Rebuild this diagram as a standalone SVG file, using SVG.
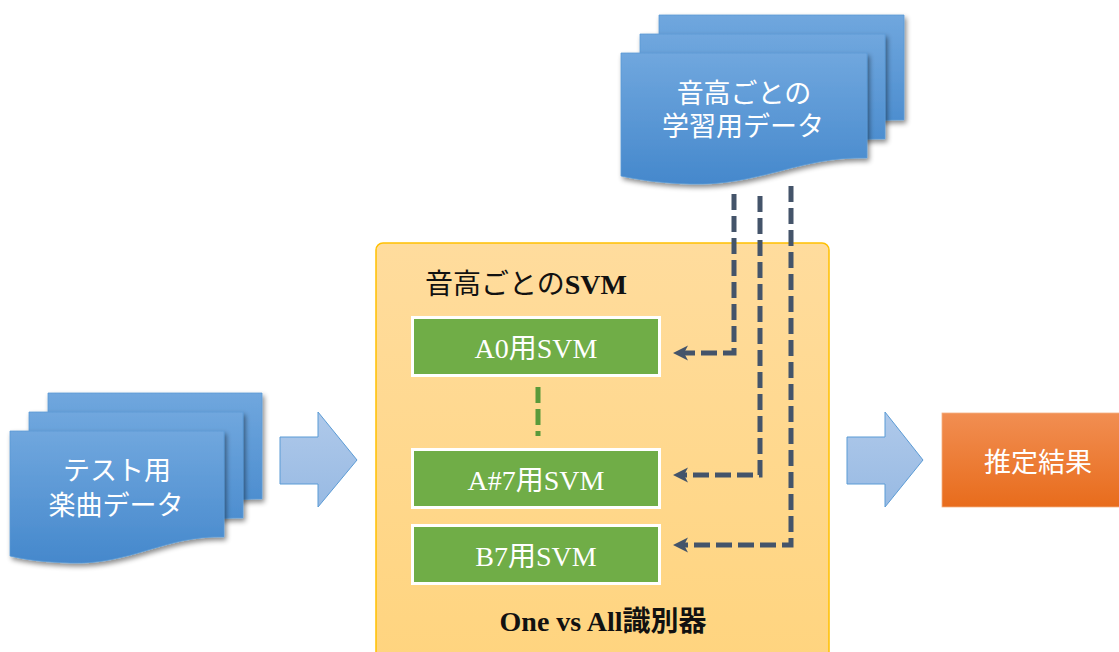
<svg xmlns="http://www.w3.org/2000/svg" width="1119" height="652" viewBox="0 0 1119 652">
  <defs>
    <linearGradient id="docFill" x1="0" y1="0" x2="0" y2="1">
      <stop offset="0" stop-color="#70A7DE"/>
      <stop offset="1" stop-color="#4588CC"/>
    </linearGradient>
    <linearGradient id="blockArrowFill" x1="0" y1="0" x2="0" y2="1">
      <stop offset="0" stop-color="#AFC9EA"/>
      <stop offset="1" stop-color="#98BAE3"/>
    </linearGradient>
    <linearGradient id="panelFill" x1="0" y1="0" x2="0" y2="1">
      <stop offset="0" stop-color="#FFDC9D"/>
      <stop offset="1" stop-color="#FFD47E"/>
    </linearGradient>
    <linearGradient id="resultFill" x1="0" y1="0" x2="0" y2="1">
      <stop offset="0" stop-color="#F18E52"/>
      <stop offset="1" stop-color="#E86C1C"/>
    </linearGradient>
    <filter id="docShadow" x="-10%" y="-10%" width="125%" height="130%">
      <feDropShadow dx="2" dy="3" stdDeviation="2.5" flood-color="#000" flood-opacity="0.45"/>
    </filter>
    <marker id="arrowHead" markerUnits="userSpaceOnUse" markerWidth="16" markerHeight="16" viewBox="0 0 16 16" refX="4" refY="7.5" orient="auto">
      <path d="M0,0 L15,7.5 L0,15 L4,7.5 Z" fill="#44546A"/>
    </marker>
  </defs>
  <style>
    .doc { fill: url(#docFill); stroke: #5B9BD5; stroke-width: 0.8; filter: url(#docShadow); }
    .docText { font-family: "Liberation Serif", "Noto Sans CJK JP", serif; font-size: 27px; fill: #FFFFFF; text-anchor: middle; }
    .blockArrow { fill: url(#blockArrowFill); stroke: #5B9BD5; stroke-width: 1; }
    .svmBox { fill: #70AD47; stroke: #FFFFFF; stroke-width: 3; }
    .svmText { font-family: "Liberation Serif", "Noto Sans CJK JP", serif; font-size: 28px; fill: #FFFFFF; text-anchor: middle; }
    .label { font-family: "Liberation Serif", "Noto Sans CJK JP", serif; font-size: 28px; fill: #111111; }
    .flow { fill: none; stroke: #44546A; stroke-width: 5; stroke-dasharray: 16 6; marker-end: url(#arrowHead); }
  </style>

  <rect width="1119" height="652" fill="#FFFFFF"/>

  <!-- training data per pitch (stacked documents) -->
  <g id="training-data">
    <path class="doc" d="M659,15 H904 V120 C837,118 797,148 728,146 C698,145 678,142 659,138 Z"/>
    <path class="doc" d="M640,34 H885 V139 C818,137 778,167 709,165 C679,164 659,161 640,157 Z"/>
    <path class="doc" d="M621,53 H867 V158 C800,156 760,186 690,184 C660,183 640,180 621,176 Z"/>
    <text class="docText" x="744" y="103">音高ごとの</text>
    <text class="docText" x="743" y="136">学習用データ</text>
  </g>

  <!-- test music data (stacked documents) -->
  <g id="test-data">
    <path class="doc" d="M48,393 H262 V499 C204,497 169,527 108,525 C82,524 65,522 48,518 Z"/>
    <path class="doc" d="M29,412 H243 V518 C185,516 150,546 89,544 C63,543 46,541 29,537 Z"/>
    <path class="doc" d="M10,431 H224 V537 C166,535 131,565 70,563 C44,562 27,560 10,556 Z"/>
    <text class="docText" x="117" y="480">テスト用</text>
    <text class="docText" x="116" y="515">楽曲データ</text>
  </g>

  <!-- input block arrow -->
  <g id="arrow-in">
    <polygon class="blockArrow" points="280,437 318,437 318,412 357,460 318,507 318,484 280,484"/>
  </g>

  <!-- One vs All classifier panel -->
  <g id="classifier">
    <rect x="376" y="243" width="453" height="430" rx="7" ry="7" fill="url(#panelFill)" stroke="#FFC000" stroke-width="1.5"/>
    <text class="label" x="425" y="294">音高ごとの<tspan font-weight="bold">SVM</tspan></text>
    <text class="label" x="603" y="631" text-anchor="middle" font-weight="bold">One vs All識別器</text>
  </g>

  <g id="svm-a0">
    <rect class="svmBox" x="412.5" y="317.5" width="247" height="58"/>
    <text class="svmText" x="536" y="358">A0用SVM</text>
  </g>

  <g id="svm-ellipsis">
    <line x1="538" y1="387" x2="538" y2="436" stroke="#5A9A3A" stroke-width="5" stroke-dasharray="16 6"/>
  </g>

  <g id="svm-as7">
    <rect class="svmBox" x="412.5" y="449.5" width="247" height="58"/>
    <text class="svmText" x="536" y="490">A#7用SVM</text>
  </g>

  <g id="svm-b7">
    <rect class="svmBox" x="412.5" y="525.5" width="247" height="58"/>
    <text class="svmText" x="536" y="566">B7用SVM</text>
  </g>

  <!-- output block arrow -->
  <g id="arrow-out">
    <polygon class="blockArrow" points="847,437 885,437 885,412 923,460 885,507 885,484 847,484"/>
  </g>

  <!-- estimation result -->
  <g id="result">
    <rect x="942" y="413" width="180" height="94" fill="url(#resultFill)" stroke="#F4B183" stroke-width="0.8"/>
    <text class="docText" x="1038" y="472">推定結果</text>
  </g>

  <!-- training data flows into each SVM -->
  <g id="connectors">
    <path class="flow" d="M734,194 V353 H684"/>
    <path class="flow" d="M760,196 V475 H684"/>
    <path class="flow" d="M791,186 V545 H684"/>
  </g>
</svg>
